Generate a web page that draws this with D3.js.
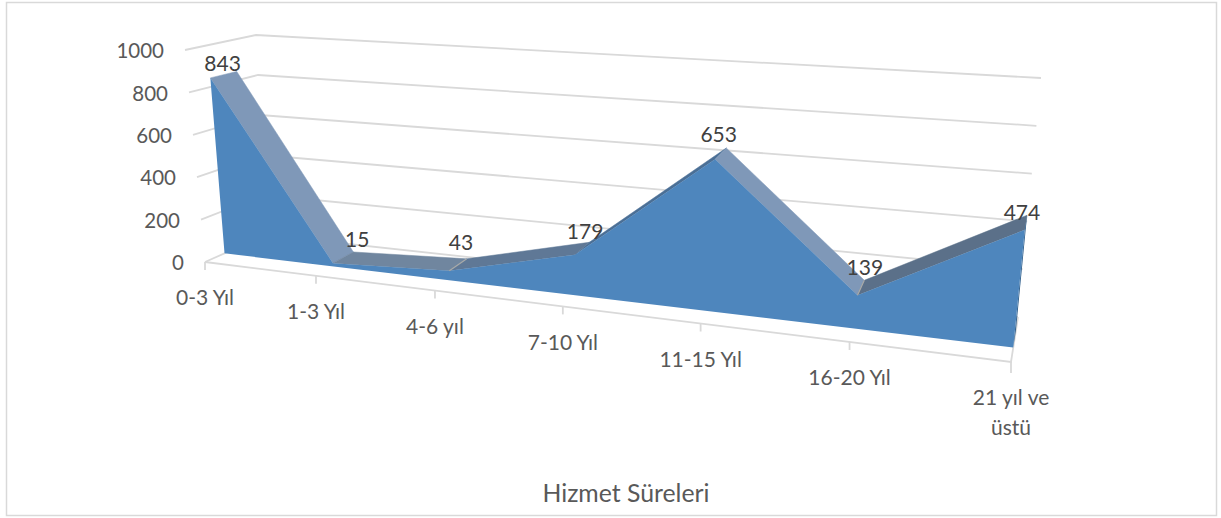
<!DOCTYPE html>
<html><head><meta charset="utf-8">
<script src="https://cdn.jsdelivr.net/npm/d3@7"></script>
<style>html,body{margin:0;padding:0;background:#fff}svg{display:block}text{font-family:Lato,"Open Sans",sans-serif}</style>
</head><body><svg id="c" width="1221" height="518"></svg>
<script>
const categories = ["0-3 Yıl","1-3 Yıl","4-6 yıl","7-10 Yıl","11-15 Yıl","16-20 Yıl",["21 yıl ve","üstü"]];
const values = [843,15,43,179,653,139,474];
const yTicks = [0,200,400,600,800,1000];
const axisTitle = "Hizmet Süreleri";
const labelNudges = [[-1,-11],[14,-18],[3,-22],[3,-17],[-2,-19],[4,-20],[-4,-10]];
const segmentFills = ["#7f98b8","#70869f","#5f7896","#4a6f96","#7f98b8","#5b7089"];
const seamCategories = [2,5];

const keys = categories.map((c,i)=>i);
const tScale = d3.scalePoint().domain(keys).range([0,1]);
const yScale = d3.scaleLinear().domain([0,1000]).range([0,1]);
const warp = t => t/(t+(1-t)*1.2524);
const C = {
  f0l:[205,262], f1l:[185,50], b0l:[266,235], b1l:[256,35],
  f0r:[1011,362], f1r:[1036,109], b0r:[1018,317], b1r:[1041,78]
};
const lerp=(a,b,t)=>[a[0]+(b[0]-a[0])*t,a[1]+(b[1]-a[1])*t];
function project(t,v,d){
  const u=warp(t);
  const fl=lerp(C.f0l,C.f1l,v), fr=lerp(C.f0r,C.f1r,v), bl=lerp(C.b0l,C.b1l,v), br=lerp(C.b0r,C.b1r,v);
  return lerp(lerp(fl,fr,u),lerp(bl,br,u),d);
}
const D_FRONT=.32, D_BACK=.7;
const P=(k,val,d)=>project(tScale(k),yScale(val),d);
const svg=d3.select("#c");
const line=d3.line();
svg.append("rect").attr("x",6.5).attr("y",2.5).attr("width",1210).attr("height",513).attr("fill","#fff").attr("stroke","#d9d9d9").attr("stroke-width",1.5);

const grid=svg.append("g").attr("fill","none").attr("stroke","#d9d9d9").attr("stroke-width",1.8);
yTicks.forEach(v=>{
  grid.append("path").attr("d",line([P(0,v,0),P(0,v,1),P(6,v,1)]));
});
grid.append("path").attr("d",line([P(0,0,0),P(6,0,0),P(6,0,1)]));
keys.forEach(k=>{const p=P(k,0,0);grid.append("path").attr("d",line([p,[p[0],p[1]+ (k==6?11:8)]]));});

const marks=svg.append("g");
const segOrder=[3,0,1,2,4,5];
segOrder.forEach(i=>{
  marks.append("path").attr("fill",segmentFills[i]).attr("stroke",segmentFills[i]).attr("stroke-width",.5)
   .attr("d",line([P(i,values[i],D_FRONT),P(i+1,values[i+1],D_FRONT),P(i+1,values[i+1],D_BACK),P(i,values[i],D_BACK)])+"Z");
});
marks.append("path").attr("fill","#2f5f8c")
  .attr("d",line([P(6,values[6],D_FRONT),P(6,values[6],D_BACK),P(6,0,D_BACK),P(6,0,D_FRONT)])+"Z");
const front=keys.map(k=>P(k,values[k],D_FRONT));
marks.append("path").attr("fill","#4e86bd")
  .attr("d",line([P(0,0,D_FRONT),...front,P(6,0,D_FRONT)])+"Z");
seamCategories.forEach(k=>{
  marks.append("path").attr("stroke","#a9aaa8").attr("stroke-width",1.2).attr("fill","none")
   .attr("d",line([P(k,values[k],D_FRONT),P(k,values[k],D_BACK)]));
});

const tg=svg.append("g").attr("fill","#595959").attr("font-size",20.5);
yTicks.forEach(v=>{
  const p=P(0,v,0);
  tg.append("text").attr("x",p[0]-21).attr("y",p[1]+1).attr("dy",".35em").attr("text-anchor","end").text(v);
});
keys.forEach(k=>{
  const p=P(k,0,0), c=categories[k], ls=Array.isArray(c)?c:[c];
  ls.forEach((s,j)=>tg.append("text").attr("x",p[0]+(k==0?0:0)).attr("y",p[1]+36+j*30).attr("dy",".35em").attr("text-anchor","middle").attr("font-size",21).text(s));
});
const lg=svg.append("g").attr("fill","#404040").attr("font-size",21);
keys.forEach(k=>{
  const p=P(k,values[k],(D_FRONT+D_BACK)/2);
  lg.append("text").attr("x",p[0]+labelNudges[k][0]).attr("y",p[1]+labelNudges[k][1]).attr("dy",".35em").attr("text-anchor","middle").text(values[k]);
});
svg.append("text").attr("x",626).attr("y",493).attr("dy",".35em").attr("text-anchor","middle").attr("fill","#595959").attr("font-size",24.8).text(axisTitle);
</script></body></html>
